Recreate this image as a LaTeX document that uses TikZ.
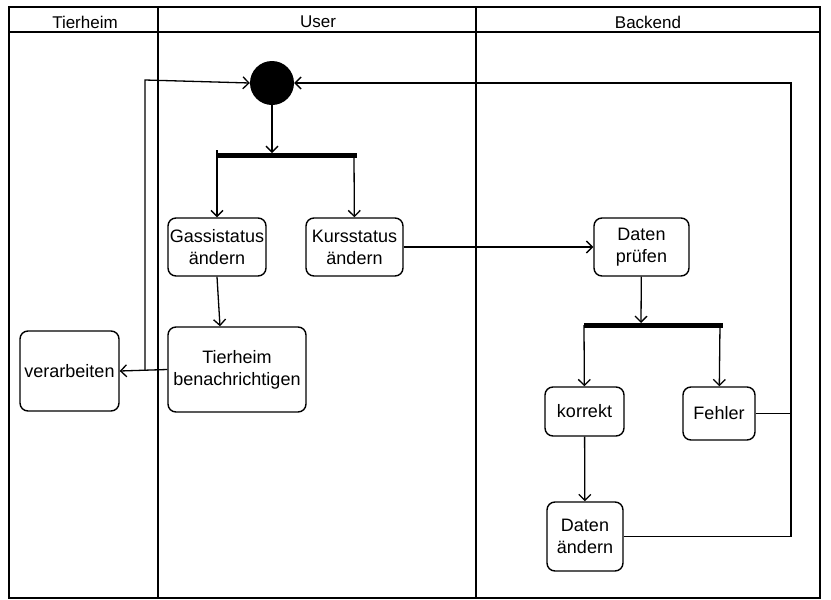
\documentclass[tikz,border=0pt]{standalone}
\usepackage{fontspec}
\setmainfont{Liberation Sans}
\usetikzlibrary{arrows.meta}
\begin{document}
\begin{tikzpicture}[x=1pt,y=-1pt,
  lane/.style={draw, line width=1.8pt},
  act/.style={draw, line width=1.4pt, rounded corners=8pt, align=center,
    font=\fontsize{18}{22}\selectfont, inner sep=0pt},
  hdr/.style={font=\fontsize{17}{20}\selectfont},
  bar/.style={fill=black, draw=none},
  flow/.style={draw, line width=1.3pt, -{Straight Barb[length=6pt,width=12pt]}},
  wire/.style={draw, line width=1.3pt}]
\useasboundingbox (0,0) rectangle (831,600);

% swimlanes
\draw[lane] (9,7) rectangle (820,598);
\draw[lane] (9,32) -- (820,32);
\draw[lane] (158,7) -- (158,598);
\draw[lane] (476,7) -- (476,598);
\node[hdr] (h1) at (85,22) {Tierheim};
\node[hdr] (h2) at (318,22) {User};
\node[hdr] (h3) at (648,22) {Backend};

% start node and fork bars
\node[circle, fill=black, minimum size=44pt, inner sep=0pt] (start) at (272,83) {};
\path[bar] (217,152.5) rectangle (357,157.5);
\coordinate (b1) at (272,153);
\coordinate (b1l) at (217,155);
\coordinate (b1r) at (354,155);
\path[bar] (584,322.5) rectangle (723,327.5);
\coordinate (b2) at (641,323);
\coordinate (b2l) at (584,325);
\coordinate (b2r) at (720,325);

% activities
\node[act, minimum width=98pt, minimum height=58pt] (gass) at (217,247) {Gassistatus\\ändern};
\node[act, minimum width=97pt, minimum height=58pt] (kurs) at (354.5,247) {Kursstatus\\ändern};
\node[act, minimum width=138pt, minimum height=85pt] (notify) at (237,369.5) {Tierheim\\benachrichtigen};
\node[act, minimum width=99pt, minimum height=80pt] (proc) at (69.5,371) {verarbeiten};
\node[act, minimum width=95pt, minimum height=58pt] (check) at (641.5,247) {Daten\\prüfen};
\node[act, minimum width=79pt, minimum height=49pt] (ok) at (584.5,411.5) {korrekt};
\node[act, minimum width=72pt, minimum height=53pt] (err) at (719,413.5) {Fehler};
\node[act, minimum width=76pt, minimum height=69pt] (change) at (585,536.5) {Daten\\ändern};

% flows
\draw[flow] (start) -- (b1);
\draw[wire] (217,150) -- (b1l);
\draw[flow] (b1l) -- (gass);
\draw[flow] (b1r) -- (kurs);
\draw[flow] (gass.south) -- (notify.north -| 220,0);
\draw[flow] (notify.west) -- (proc.east);
\coordinate (ret1) at (145,370);
\coordinate (ret2) at (145,80);
\draw[flow] (ret1) -- (ret2) -- (start.west);
\draw[flow] (kurs.east) -- (check.west);
\draw[flow] (check) -- (b2);
\draw[flow] (b2l) -- (ok);
\draw[flow] (b2r) -- (err);
\draw[flow] (ok) -- (change);
\coordinate (ret3) at (791,536.5);
\coordinate (ret4) at (791,83);
\draw[flow] (change.east) -- (ret3) -- (ret4) -- (start.east);
\draw[wire] (err.east) -- (err.east -| ret3);
\end{tikzpicture}
\end{document}
